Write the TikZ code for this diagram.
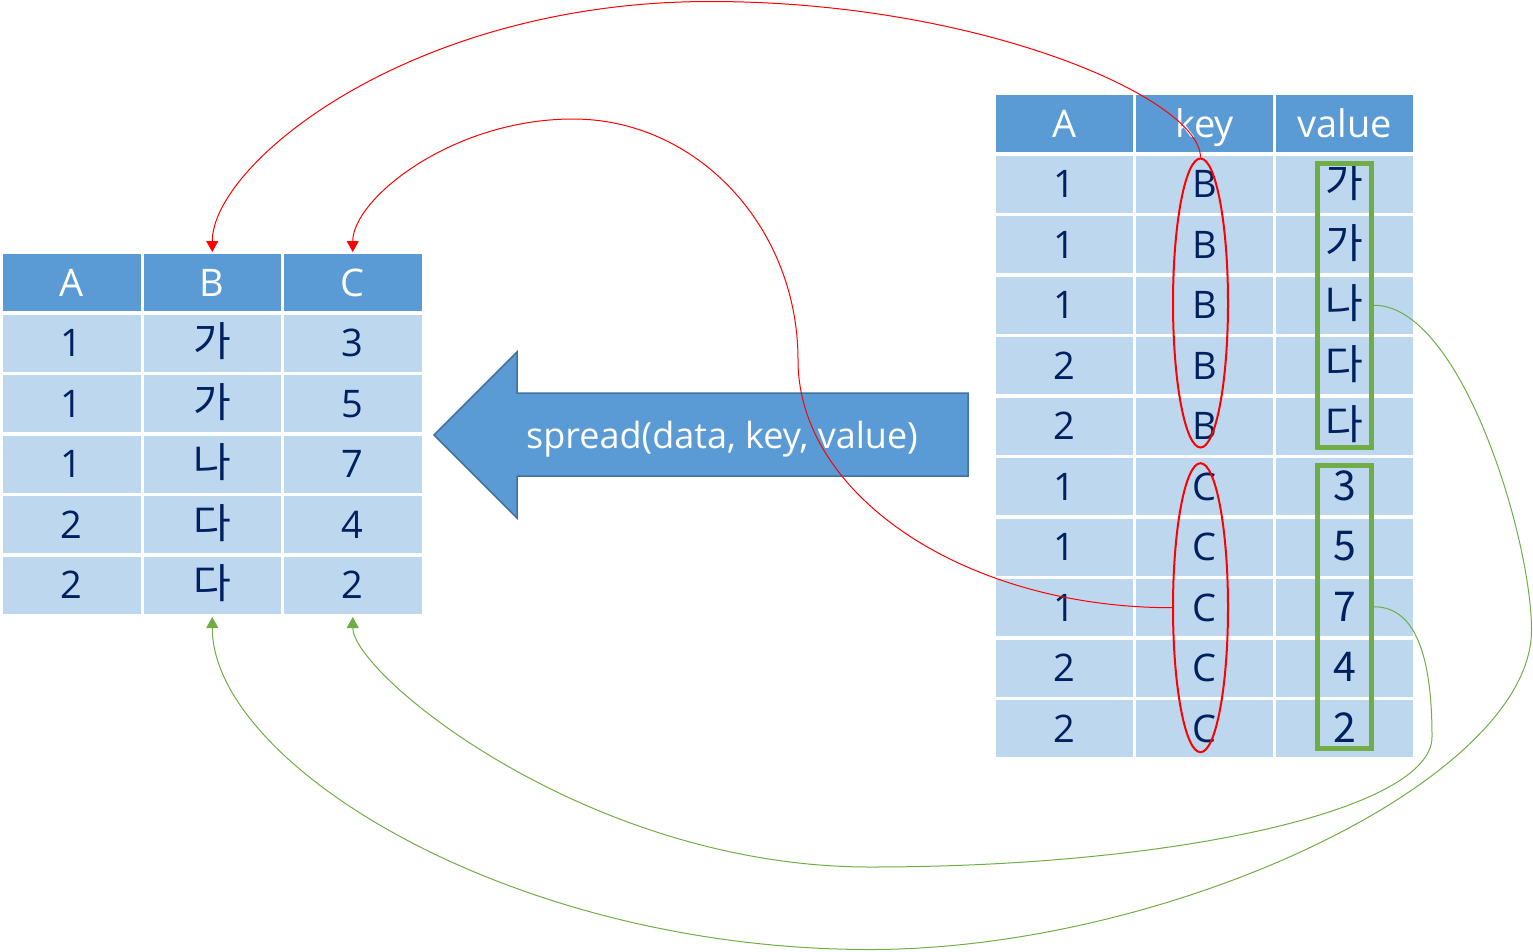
\documentclass[tikz,border=0pt]{standalone}
\usepackage{fontspec}
\setmainfont{Open Sans}
\newfontfamily\kr[Scale=1.08]{Noto Sans CJK KR}
\usetikzlibrary{shapes.geometric,arrows.meta}
\definecolor{hdr}{HTML}{5B9BD5}
\definecolor{cellc}{HTML}{BDD7EE}
\definecolor{navy}{HTML}{002060}
\definecolor{grn}{HTML}{70AD47}
\definecolor{arrowedge}{HTML}{41719C}
\begin{document}
\begin{tikzpicture}[x=1pt,y=-1pt,
  cellbox/.style={rectangle, fill=cellc, minimum width=137.5pt, minimum height=57pt, inner sep=0pt, outer sep=0pt, text=navy, font=\fontsize{38}{42}\selectfont, text height=27.2pt, text depth=0pt},
  hdrbox/.style={cellbox, fill=hdr, text=white},
  redlink/.style={draw=red, line width=1pt, -{Triangle[width=12pt,length=11pt]}, shorten >=2pt},
  grnlink/.style={draw=grn, line width=1pt, -{Triangle[width=12pt,length=11pt]}, shorten >=3.5pt},
  keyring/.style={ellipse, draw=red, line width=2pt, minimum width=55pt, minimum height=289pt, inner sep=0pt},
  valbox/.style={rectangle, draw=grn, line width=5pt, minimum width=54pt, inner sep=0pt}]
\useasboundingbox (0,0) rectangle (1533,951);
% left table
\foreach \t [count=\j from 0] in {A,B,C}
  \node[hdrbox] (L\j-0) at (71.75+140.5*\j,282.5) {\t};
\foreach \a/\b/\c [count=\i] in {1/가/3,1/가/5,1/나/7,2/다/4,2/다/2}{
  \node[cellbox] (L0-\i) at (71.75,282.5+60.5*\i) {\a};
  \node[cellbox] (L1-\i) at (212.25,282.5+60.5*\i) {\kr\b};
  \node[cellbox] (L2-\i) at (352.75,282.5+60.5*\i) {\c};
}
% right table
\foreach \t [count=\j from 0] in {A,key,value}
  \node[hdrbox, minimum width=137pt] (R\j-0) at (1064.5+140*\j,123.5) {\t};
\foreach \a/\b/\c [count=\i] in {1/B/가,1/B/가,1/B/나,2/B/다,2/B/다,1/C/3,1/C/5,1/C/7,2/C/4,2/C/2}{
  \node[cellbox, minimum width=137pt] (R0-\i) at (1064.5,123.5+60.5*\i) {\a};
  \node[cellbox, minimum width=137pt] (R1-\i) at (1204.5,123.5+60.5*\i) {\b};
  \node[cellbox, minimum width=137pt] (R2-\i) at (1344.5,123.5+60.5*\i) {\kr\c};
}
% block arrow
\draw[fill=hdr, draw=arrowedge, line width=1.5pt] (968,393) -- (517,393) -- (517,352) -- (434,435) -- (517,518) -- (517,476) -- (968,476) -- cycle;
\node[text=white, font=\fontsize{36}{40}\selectfont, anchor=base, inner sep=0pt] (fn) at (722,448) {spread(data, key, value)};
% highlights
\node[keyring] (eB) at (1200.5,303) {};
\node[keyring] (eC) at (1200.5,607.7) {};
\node[valbox, minimum height=284.5pt] (gB) at (1344.5,305.25) {};
\node[valbox, minimum height=283.5pt] (gC) at (1344.5,606.75) {};
% connectors
\coordinate (r1p) at (710,1.5);
\coordinate (r2a) at (798,360);
\coordinate (r2b) at (573,119);
\coordinate (g1a) at (1531.5,630);
\coordinate (g1b) at (870,949.5);
\coordinate (g2a) at (1432,737);
\coordinate (g2b) at (870,867);
\draw[redlink] (eB.north) .. controls +(0,-59) and +(270,0) .. (r1p) .. controls +(-300,0) and +(0,-90) .. (L1-0.north);
\draw[redlink] (eC.west) .. controls +(-206,0) and +(0,136) .. (r2a) .. controls +(0,-133) and +(124,0) .. (r2b) .. controls +(-121,0) and +(0,-55) .. (L2-0.north);
\draw[grnlink] (gB.east) .. controls +(87,0) and +(0,-92) .. (g1a) .. controls +(0,150) and +(300,0) .. (g1b) .. controls +(-361,0) and +(0,150) .. (L1-5.south);
\draw[grnlink] (gC.east) .. controls +(45,0) and +(0,-72) .. (g2a) .. controls +(0,72) and +(309,0) .. (g2b) .. controls +(-284,0) and +(0,60) .. (L2-5.south);
\end{tikzpicture}
\end{document}
